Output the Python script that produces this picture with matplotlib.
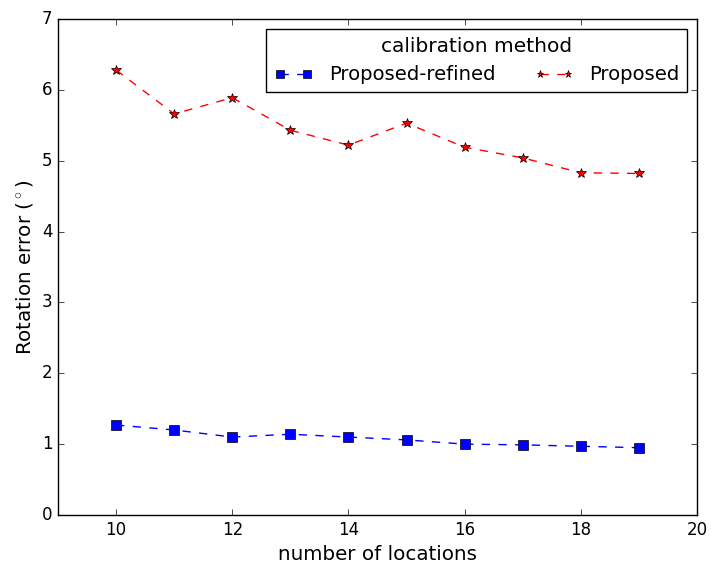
import matplotlib
matplotlib.use("Agg")
import matplotlib.pyplot as plt

plt.style.use('classic')

locations = [10, 11, 12, 13, 14, 15, 16, 17, 18, 19]
proposed_refined = [1.27, 1.20, 1.10, 1.14, 1.10, 1.06, 1.00, 0.99, 0.97, 0.95]
proposed = [6.28, 5.66, 5.89, 5.43, 5.22, 5.53, 5.19, 5.04, 4.83, 4.82]

fig = plt.figure(figsize=(7.11, 5.65), dpi=100)
ax = fig.add_axes([58/711, 50/565, (697-58)/711, (515-19)/565])

ax.plot(locations, proposed_refined, '--', color='blue', marker='s',
        markersize=7.5, markerfacecolor='blue', markeredgecolor='black',
        label='Proposed-refined')
ax.plot(locations, proposed, '--', color='red', marker='*',
        markersize=7, markerfacecolor='red', markeredgecolor='black',
        label='Proposed')

ax.set_xlim(9, 20)
ax.set_ylim(0, 7)
ax.set_xticks([10, 12, 14, 16, 18, 20])
ax.set_xlabel('number of locations', fontsize=14.3)
ax.set_ylabel('Rotation error ($^\\circ$)', fontsize=14.3)
ax.tick_params(labelsize=12)

leg = ax.legend(title='calibration method', ncol=2, loc='upper right',
                fontsize=14.1, numpoints=2, borderaxespad=0.5,
                markerscale=0.75)
leg.get_title().set_fontsize(14.5)

fig.savefig('out.png', dpi=100)
